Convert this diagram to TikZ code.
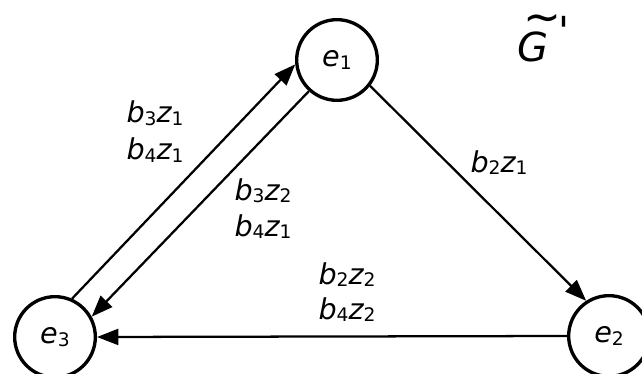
\documentclass[tikz,border=0pt]{standalone}
\usepackage{fontspec}
\setmainfont{DejaVu Sans}
\usetikzlibrary{arrows.meta}
\newcommand\sbx[1]{\raisebox{-2pt}{\fontsize{14}{14}\selectfont\upshape #1}}
\newcommand\bz[2]{b\sbx{#1}z\sbx{#2}}
\begin{document}
\begin{tikzpicture}[x=0.75pt,y=-0.75pt,
  state/.style={circle,draw,line width=2.5pt,minimum size=60.5pt,inner sep=0pt,
    font=\itshape\fontsize{21.5}{24}\selectfont},
  conn/.style={line width=1.7pt,-{Triangle[length=16pt,width=12pt]}},
  lab/.style={font=\itshape\fontsize{21.5}{24}\selectfont,inner sep=0pt,anchor=base}]
\useasboundingbox (0,0) rectangle (642,374);
\node[state] (e1) at (337,60) {e\sbx{1}};
\node[state] (e2) at (609,336) {e\sbx{2}};
\node[state] (e3) at (55,337) {e\sbx{3}};
\draw[conn] (e3.66) -- (e1.186);
\draw[conn] (e1.228) -- (e3.29);
\draw[conn] (e1.-38) -- (e2.123);
\draw[conn] (e2.180) -- (e3.0);
\node[lab] (l1a) at (155,123) {\bz{3}{1}};
\node[lab] (l1b) at (155,160) {\bz{4}{1}};
\node[lab] (l2a) at (263,200) {\bz{3}{2}};
\node[lab] (l2b) at (263,236) {\bz{4}{1}};
\node[lab] (l3) at (499,172) {\bz{2}{1}};
\node[lab] (l4a) at (347,284) {\bz{2}{2}};
\node[lab] (l4b) at (347,319) {\bz{4}{2}};
\node[font=\itshape\fontsize{30}{36}\selectfont,inner sep=0pt,anchor=base west] (g) at (517,62)
  {\makebox[0pt][l]{\hspace{4.5pt}\raisebox{22pt}{\fontsize{34}{34}\selectfont\upshape\textasciitilde}}G\hspace{7.5pt}\raisebox{12pt}{\upshape\textquotesingle}};
\end{tikzpicture}
\end{document}
